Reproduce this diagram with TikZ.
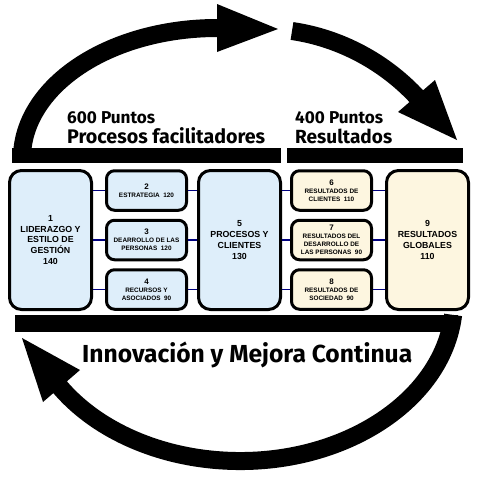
\documentclass[tikz,border=0pt]{standalone}
\usepackage{fontspec}
\usepackage{graphicx}
\setmainfont{Liberation Sans}
\newfontfamily\headfont{Fira Sans}
\definecolor{bluefill}{RGB}{222,238,250}
\definecolor{creamfill}{RGB}{253,246,224}
\definecolor{navyline}{RGB}{0,0,128}
\tikzset{
  arcline/.style={line width=18pt, black},
  bigbox/.style={draw=black, line width=3pt, rounded corners=12pt, inner sep=0pt,
    minimum width=82pt, minimum height=139pt, align=center,
    font=\bfseries\fontsize{8.8}{10.8}\selectfont},
  smallbox/.style={draw=black, line width=3pt, rounded corners=8pt, inner sep=0pt,
    minimum width=80pt, minimum height=39.5pt, align=center,
    font=\bfseries\fontsize{6.4}{8}\selectfont},
  blue/.style={fill=bluefill},
  cream/.style={fill=creamfill},
  conn/.style={draw=navyline, line width=1.8pt},
  head/.style={anchor=base west, inner sep=0pt}
}
\newcommand{\bnum}[1]{{\fontsize{8}{8}\selectfont #1}}
\begin{document}
\begin{tikzpicture}[x=1pt,y=-1pt]
\useasboundingbox (0,0) rectangle (486,480);
% arcs
\draw[arcline] (22,158) arc[start angle=180,end angle=272,x radius=195,y radius=130];
\fill (217,4) -- (278,29) -- (217,52) -- cycle;
\draw[arcline] (292,31) .. controls (340,38) and (385,62) .. (418,98);
\fill (435,80) -- (457,140) -- (398,112) -- cycle;
\draw[arcline] (453.1,314.9) arc[start angle=5.3,end angle=148,x radius=214,y radius=161];
\fill (22,338) -- (80,370) -- (43,402) -- cycle;
% bars
\fill (12,148) rectangle (281,163);
\fill (287,148) rectangle (463,163);
\fill (15,315) rectangle (458,332);
% headings
\node[head] (h1) at (67,123) {\resizebox{88pt}{!}{\headfont\bfseries 600 Puntos}};
\node[head] (h2) at (67,143) {\resizebox{198pt}{!}{\headfont\bfseries Procesos facilitadores}};
\node[head] (h3) at (295,123) {\resizebox{88pt}{!}{\headfont\bfseries 400 Puntos}};
\node[head] (h4) at (295,143) {\resizebox{97pt}{!}{\headfont\bfseries Resultados}};
\node[head] (foot) at (82,362) {\resizebox{330pt}{!}{\headfont\bfseries Innovación y Mejora Continua}};
% boxes
\node[bigbox,blue] (b1) at (50.5,240) {1\\LIDERAZGO Y\\ESTILO DE\\GESTIÓN\\140};
\node[smallbox,blue] (b2) at (146.5,190.5) {\bnum{2}\\ESTRATEGIA\ \ 120};
\node[smallbox,blue] (b3) at (146.5,240) {\bnum{3}\\DEARROLLO DE LAS\\PERSONAS\ \ 120};
\node[smallbox,blue] (b4) at (146.5,289.5) {\bnum{4}\\RECURSOS Y\\ASOCIADOS\ \ 90};
\node[bigbox,blue] (b5) at (239.5,240) {5\\PROCESOS Y\\CLIENTES\\130};
\node[smallbox,cream] (b6) at (331.5,190.5) {\bnum{6}\\RESULTADOS DE\\CLIENTES\ \ 110};
\node[smallbox,cream] (b7) at (331.5,240) {\bnum{7}\\RESULTADOS DEL\\DESARROLLO DE\\LAS PERSONAS\ \ 90};
\node[smallbox,cream] (b8) at (331.5,289.5) {\bnum{8}\\RESULTADOS DE\\SOCIEDAD\ \ 90};
\node[bigbox,cream] (b9) at (427.5,240) {9\\RESULTADOS\\GLOBALES\\110};
% connectors
\foreach \s in {b2,b3,b4} {
  \draw[conn] (\s.west) -- (\s.west -| b1.east);
  \draw[conn] (\s.east) -- (\s.east -| b5.west);
}
\foreach \s in {b6,b7,b8} {
  \draw[conn] (\s.west) -- (\s.west -| b5.east);
  \draw[conn] (\s.east) -- (\s.east -| b9.west);
}
\end{tikzpicture}
\end{document}
